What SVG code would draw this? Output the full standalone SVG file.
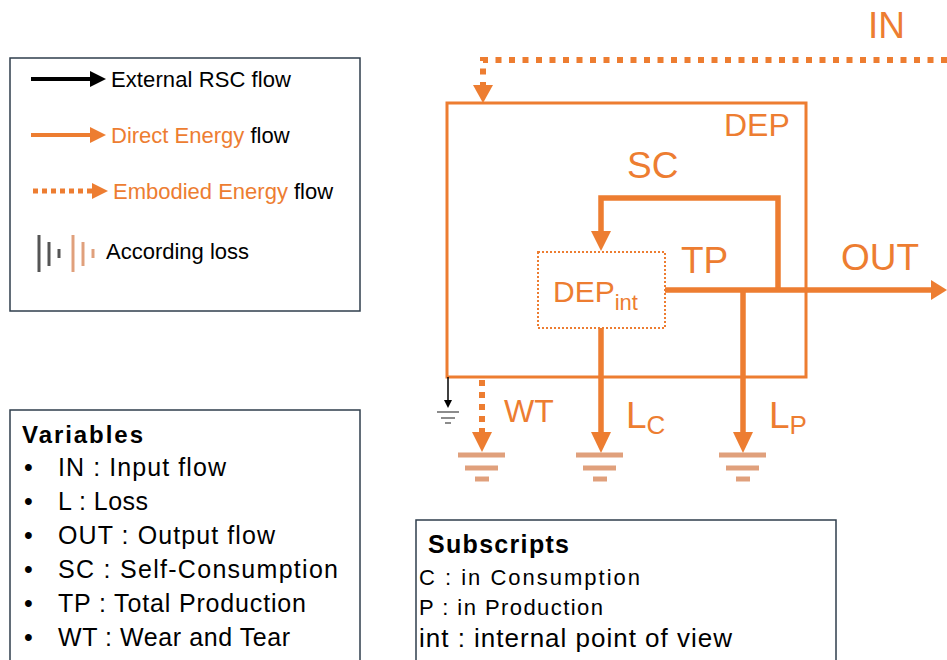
<svg xmlns="http://www.w3.org/2000/svg" width="947" height="660" viewBox="0 0 947 660">
<style>
.o{fill:#ED7D31}
.t{font-family:"Liberation Sans",Arial,sans-serif}
.box{fill:none;stroke:#2F3E4C;stroke-width:1.5}
.flow{fill:none;stroke:#ED7D31;stroke-width:5.5}
.gnd{stroke:#E0A07C;stroke-width:5}
</style>
<rect width="947" height="660" fill="#fff"/>
<g id="legend">
<rect class="box" x="10" y="58" width="350" height="253"/>
<line x1="31" y1="79" x2="92" y2="79" stroke="#000" stroke-width="4"/>
<path d="M90,71L106,79L90,87Z" fill="#000"/>
<text class="t" x="111" y="87" font-size="22" textLength="180">External RSC flow</text>
<line x1="31" y1="135" x2="92" y2="135" stroke="#ED7D31" stroke-width="4"/>
<path d="M90,127L106,135L90,143Z" fill="#ED7D31"/>
<text class="t" x="111" y="143" font-size="22"><tspan fill="#ED7D31">Direct Energy</tspan> flow</text>
<line x1="33" y1="191" x2="93" y2="191" stroke="#ED7D31" stroke-width="5" stroke-dasharray="5 4"/>
<path d="M92,183L108,191L92,199Z" fill="#ED7D31"/>
<text class="t" x="113" y="199" font-size="22"><tspan fill="#ED7D31">Embodied Energy</tspan> flow</text>
<g stroke-width="3">
<line x1="39" y1="235" x2="39" y2="272" stroke="#555"/>
<line x1="49" y1="242" x2="49" y2="266" stroke="#555"/>
<line x1="59" y1="249" x2="59" y2="258" stroke="#555"/>
<line x1="73" y1="235" x2="73" y2="272" stroke="#E0A07C"/>
<line x1="83" y1="242" x2="83" y2="266" stroke="#E0A07C"/>
<line x1="93" y1="249" x2="93" y2="258" stroke="#E0A07C"/>
</g>
<text class="t" x="106" y="259" font-size="22">According loss</text>
</g>
<g id="variables">
<rect class="box" x="10" y="410" width="350" height="260"/>
<text class="t" x="22" y="443" font-size="24" font-weight="bold" textLength="121">Variables</text>
<g class="t" font-size="25">
<text x="24" y="476">•</text><text x="58" y="476" textLength="168">IN : Input flow</text>
<text x="24" y="510">•</text><text x="58" y="510" textLength="90">L : Loss</text>
<text x="24" y="544">•</text><text x="58" y="544" textLength="217">OUT : Output flow</text>
<text x="24" y="578">•</text><text x="58" y="578" textLength="280">SC : Self-Consumption</text>
<text x="24" y="612">•</text><text x="58" y="612" textLength="248">TP : Total Production</text>
<text x="24" y="646">•</text><text x="58" y="646" textLength="232">WT : Wear and Tear</text>
</g>
</g>
<g id="subscripts">
<rect class="box" x="416" y="520" width="420" height="150"/>
<text class="t" x="428" y="553" font-size="25" font-weight="bold" textLength="141">Subscripts</text>
<text class="t" x="419" y="585" font-size="22" textLength="221">C :  in Consumption</text>
<text class="t" x="419" y="615" font-size="22" textLength="184">P : in Production</text>
<text class="t" x="419" y="647" font-size="26" textLength="313">int : internal point of view</text>
</g>
<g id="dep">
<rect x="447" y="103" width="359" height="274" fill="none" stroke="#ED7D31" stroke-width="3"/>
<text class="t o" x="724" y="136" font-size="32">DEP</text>
</g>
<g id="depint">
<rect x="538" y="252" width="127" height="76" fill="none" stroke="#ED7D31" stroke-width="2" stroke-dasharray="2 2"/>
<text class="t o" x="553" y="302" font-size="30">DEP<tspan font-size="22" dy="8">int</tspan></text>
</g>
<g id="connectors">
<polyline points="947,60 483,60 483,86" fill="none" stroke="#ED7D31" stroke-width="6" stroke-dasharray="6 7.5"/>
<path d="M473,85L493,85L483,103Z" fill="#ED7D31"/>
<polyline class="flow" points="778,290 778,198 601,198 601,233"/>
<path d="M591,231L611,231L601,251Z" fill="#ED7D31"/>
<line class="flow" x1="665" y1="290" x2="932" y2="290"/>
<path d="M931,280L947,290L931,300Z" fill="#ED7D31"/>
<line class="flow" x1="601" y1="328" x2="601" y2="434"/>
<path d="M591,432L611,432L601,453Z" fill="#ED7D31"/>
<line class="flow" x1="743" y1="290" x2="743" y2="434"/>
<path d="M733,432L753,432L743,453Z" fill="#ED7D31"/>
<line x1="482" y1="380" x2="482" y2="434" stroke="#ED7D31" stroke-width="6" stroke-dasharray="6 6"/>
<path d="M472,432L492,432L482,452Z" fill="#ED7D31"/>
<line x1="448" y1="377" x2="448" y2="402" stroke="#000" stroke-width="1.5"/>
<path d="M444,400L452,400L448,408Z" fill="#000"/>
<g stroke="#666" stroke-width="1.5">
<line x1="437" y1="412" x2="459" y2="412"/>
<line x1="441" y1="418" x2="455" y2="418"/>
<line x1="445" y1="423" x2="451" y2="423"/>
</g>
<g class="gnd">
<line x1="458" y1="455" x2="505" y2="455"/><line x1="465" y1="468" x2="498" y2="468"/><line x1="475" y1="479" x2="489" y2="479"/>
<line x1="576" y1="455" x2="623" y2="455"/><line x1="583" y1="468" x2="616" y2="468"/><line x1="593" y1="479" x2="607" y2="479"/>
<line x1="719" y1="455" x2="766" y2="455"/><line x1="726" y1="468" x2="759" y2="468"/><line x1="736" y1="479" x2="750" y2="479"/>
</g>
</g>
<g id="labels" class="t o">
<text x="868" y="38" font-size="37">IN</text>
<text x="627" y="178" font-size="37">SC</text>
<text x="681" y="273" font-size="37">TP</text>
<text x="841" y="270" font-size="37">OUT</text>
<text x="504" y="422" font-size="32">WT</text>
<text x="626" y="428" font-size="37">L<tspan font-size="26" dy="6">C</tspan></text>
<text x="769" y="428" font-size="37">L<tspan font-size="26" dy="6">P</tspan></text>
</g>
</svg>
